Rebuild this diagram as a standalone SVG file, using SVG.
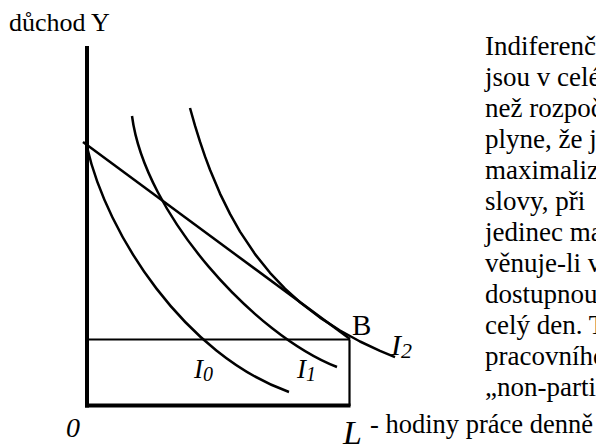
<svg xmlns="http://www.w3.org/2000/svg" width="596" height="445" viewBox="0 0 596 445">
  <style>
    text { font-family: "Liberation Serif", "Times New Roman", serif; fill: #000; }
    .p { font-size: 27px; }
    .it { font-style: italic; }
    .curve { fill: none; stroke: #000; stroke-width: 2.5; stroke-linejoin: round; }
    .axis { fill: none; stroke: #000; stroke-width: 4; }
    .thin { fill: none; stroke: #000; stroke-width: 2.2; }
  </style>
  <rect width="596" height="445" fill="#fff"/>

  <g id="axes">
    <line class="axis" x1="87" y1="46" x2="87" y2="407.5"/>
    <line class="axis" x1="85" y1="405.5" x2="350.5" y2="405.5"/>
    <line class="thin" x1="349.5" y1="339.5" x2="349.5" y2="406"/>
    <line class="thin" x1="87" y1="339.5" x2="350" y2="339.5"/>
  </g>

  <g id="connectors">
    <path id="budget-line" class="curve" d="M83,142 L350,339"/>
    <path id="curve-I0" class="curve" d="M87,147 C107,235 185,355 289,392"/>
    <path id="curve-I1" class="curve" d="M132,116 C145,215 255,335 337,367"/>
    <path id="curve-I2" class="curve" d="M190,108 L195,125.7 L200,141.7 L205,156.4 L210,169.8 L220,193.6 L230,213.9 L240,231.6 L255,254.1 L270,272.8 L285,288.6 L300,302.2 L320,317.6 L340,330.5 L360,341.5 L380,350.9 L395,357.2"/>
  </g>

  <g id="axis-labels">
    <text x="9" y="31" font-size="26" font-family="Liberation Serif, serif">důchod Y</text>
    <text class="it" x="66" y="437" font-size="28" font-family="Liberation Serif, serif">0</text>
    <text class="it" x="343" y="444" font-size="34" font-family="Liberation Serif, serif">L</text>
    <text x="370" y="433" font-size="26.5" font-family="Liberation Serif, serif">- hodiny práce denně</text>
  </g>

  <g id="point-B">
    <text x="352" y="335" font-size="29" font-family="Liberation Serif, serif">B</text>
  </g>
  <g id="label-I0">
    <text class="it" x="194" y="378" font-size="27" font-family="Liberation Serif, serif">I<tspan font-size="20" dy="3">0</tspan></text>
  </g>
  <g id="label-I1">
    <text class="it" x="297" y="378" font-size="27" font-family="Liberation Serif, serif">I<tspan font-size="20" dy="3">1</tspan></text>
  </g>
  <g id="label-I2">
    <text class="it" x="391" y="355" font-size="30" font-family="Liberation Serif, serif">I<tspan font-size="22" dy="3">2</tspan></text>
  </g>

  <g id="paragraph" font-family="Liberation Serif, serif" font-size="27">
    <text x="485" y="55">Indiferenč</text>
    <text x="485" y="86">jsou v celé</text>
    <text x="485" y="117">než rozpoč</text>
    <text x="485" y="148">plyne, že j</text>
    <text x="485" y="179">maximaliz</text>
    <text x="485" y="210">slovy, při</text>
    <text x="485" y="241">jedinec ma</text>
    <text x="485" y="272">věnuje-li v</text>
    <text x="485" y="303">dostupnou</text>
    <text x="485" y="334">celý den. T</text>
    <text x="485" y="365">pracovního</text>
    <text x="485" y="396">„non-parti</text>
  </g>
</svg>
